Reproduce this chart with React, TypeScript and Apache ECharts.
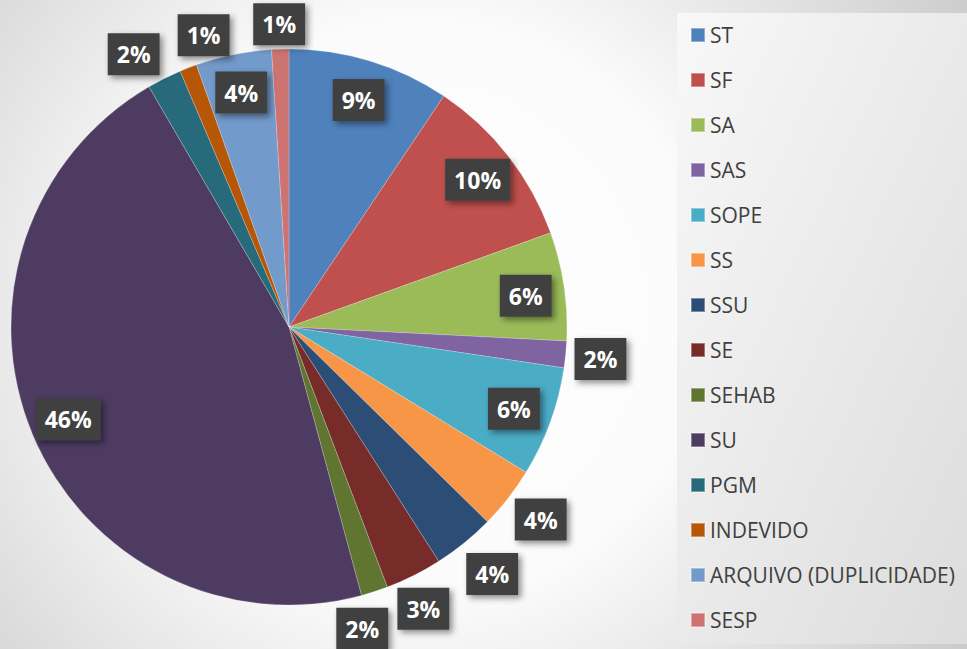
import React, { useEffect, useRef } from "react";
import * as echarts from "echarts";

const categories = [
  "ST", "SF", "SA", "SAS", "SOPE", "SS", "SSU", "SE", "SEHAB", "SU",
  "PGM", "INDEVIDO", "ARQUIVO (DUPLICIDADE)", "SESP",
];
const values = [9.4, 10.1, 6.3, 1.55, 6.4, 3.6, 3.6, 3.3, 1.55, 45.8, 2.0, 1.0, 4.4, 1.0];
const colors = [
  "#4F81BD", "#C0504D", "#9BBB59", "#8064A2", "#4BACC6", "#F79646", "#2C4D75",
  "#772C2A", "#5F7530", "#4D3B62", "#276A7C", "#B65708", "#729ACA", "#CD7371",
];
// true = label drawn inside the slice, false = just outside
const labelInside = [true, true, true, false, true, false, false, false, false, true, false, false, true, false];
// small nudges of the outside labels (best-fit placement), in px
const labelNudge: [number, number][] = [
  [0, 2], [0, 0], [0, 4], [0, 1], [0, 0], [5, 0], [6, 4], [-6, 2], [-23, 4], [0, 0],
  [-15, 7], [28, 0], [0, 0], [0, 10],
];

const CX = 289;
const CY = 327;
const R = 278;

const labelStyle = {
  color: "#ffffff",
  fontFamily: "Open Sans",
  fontWeight: "bold" as const,
  fontSize: 23,
  lineHeight: 24,
  backgroundColor: "#414141",
  padding: [9, 9, 9, 9],
  shadowColor: "rgba(0,0,0,0.45)",
  shadowBlur: 6,
  shadowOffsetX: 3,
  shadowOffsetY: 3,
  formatter: (p: any) => Math.round(p.percent) + "%",
};

const nudgeLayout = (p: any) => {
  const n = labelNudge[p.dataIndex] || [0, 0];
  return { dx: n[0], dy: n[1], hideOverlap: false, moveOverlap: false };
};

export default function App() {
  const ref = useRef<HTMLDivElement>(null);
  useEffect(() => {
    if (!ref.current) return;
    const chart = echarts.init(ref.current, undefined, { renderer: "svg" });
    const mkLabelData = (inside: boolean) =>
      categories.map((name, i) => ({
        name,
        value: values[i],
        label: { show: labelInside[i] === inside },
      }));
    chart.setOption({
      animation: false,
      graphic: [
        {
          type: "rect",
          z: -10,
          silent: true,
          shape: { x: 0, y: 0, width: 967, height: 649 },
          style: {
            fill: new echarts.graphic.RadialGradient(420, 310, 640, [
              { offset: 0, color: "#ffffff" },
              { offset: 0.45, color: "#fbfbfb" },
              { offset: 1, color: "#cbcbcb" },
            ], true),
          },
        },
        {
          type: "rect",
          z: -9,
          silent: true,
          shape: { x: 677, y: 13, width: 290, height: 631 },
          style: {
            fill: new echarts.graphic.LinearGradient(0, 0, 1, 1, [
              { offset: 0, color: "#f8f8f8" },
              { offset: 1, color: "#dcdcdc" },
            ]),
          },
        },
      ],
      legend: {
        orient: "vertical",
        left: 685,
        top: 19.5,
        itemWidth: 14,
        itemHeight: 14,
        itemGap: 24,
        icon: "rect",
        data: categories,
        selectedMode: false,
        textStyle: {
          fontFamily: "Open Sans",
          fontSize: 21,
          lineHeight: 21,
          color: "#404040",
        },
      },
      series: [
        {
          type: "pie",
          center: [CX, CY],
          radius: [0, R],
          startAngle: 90,
          clockwise: true,
          label: { show: false },
          labelLine: { show: false },
          itemStyle: { borderColor: "rgba(255,255,255,0.35)", borderWidth: 0.6 },
          emphasis: { disabled: true },
          data: categories.map((name, i) => ({
            name,
            value: values[i],
            itemStyle: { color: colors[i] },
          })),
        },
        {
          type: "pie",
          center: [CX, CY],
          radius: [R * 0.7, R],
          startAngle: 90,
          silent: true,
          z: 5,
          avoidLabelOverlap: false,
          itemStyle: { color: "rgba(0,0,0,0)" },
          label: { position: "inside", ...labelStyle },
          labelLine: { show: false },
          labelLayout: nudgeLayout,
          emphasis: { disabled: true },
          data: mkLabelData(true),
        },
        {
          type: "pie",
          center: [CX, CY],
          radius: [R, R * 1.23],
          startAngle: 90,
          silent: true,
          z: 5,
          avoidLabelOverlap: false,
          itemStyle: { color: "rgba(0,0,0,0)" },
          label: { position: "inside", ...labelStyle },
          labelLine: { show: false },
          labelLayout: nudgeLayout,
          emphasis: { disabled: true },
          data: mkLabelData(false),
        },
      ],
    });
    return () => chart.dispose();
  }, []);
  return (
    <div
      ref={ref}
      style={{ position: "absolute", left: 0, top: 0, width: 967, height: 649 }}
    />
  );
}
